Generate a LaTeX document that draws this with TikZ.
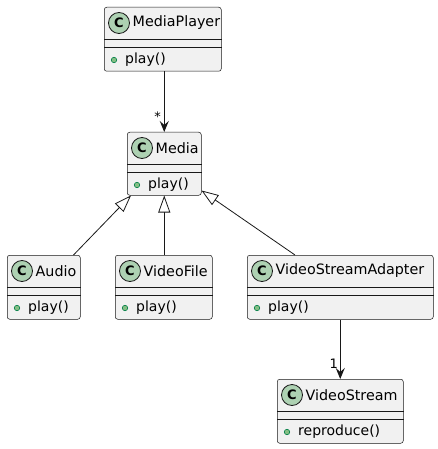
\documentclass[tikz,border=0pt]{standalone}
\usepackage{fontspec}
\setmainfont{DejaVu Sans}
\usetikzlibrary{arrows.meta}
\definecolor{clsfill}{HTML}{F1F1F1}
\definecolor{clsline}{HTML}{181818}
\definecolor{cfill}{HTML}{ADD1B2}
\definecolor{dotfill}{HTML}{84BE84}
\definecolor{dotline}{HTML}{038048}
\tikzset{
  clsbox/.style={draw=clsline, fill=clsfill, line width=0.5pt, rounded corners=2.5pt, inner sep=0pt},
  sepline/.style={draw=clsline, line width=0.5pt},
  cball/.style={circle, draw=clsline, fill=cfill, line width=0.8pt, minimum size=21pt, inner sep=0pt, font=\fontsize{13}{13}\selectfont\bfseries},
  clstitle/.style={inner sep=0pt, anchor=west, font=\fontsize{14.3}{14.3}\selectfont},
  clsmethod/.style={inner sep=0pt, anchor=west, font=\fontsize{14}{14}\selectfont},
  pubdot/.style={circle, draw=dotline, fill=dotfill, line width=0.6pt, minimum size=5.5pt, inner sep=0pt},
  assoc/.style={draw=clsline, line width=0.9pt, -{Stealth[length=11pt, width=9pt, inset=4pt]}},
  inh/.style={draw=clsline, line width=0.8pt, -{Triangle[open, length=17pt, width=12pt, fill=white]}},
  multlabel/.style={inner sep=0pt, font=\fontsize{13}{13}\selectfont},
}
\newcommand\umlcls[7]{%
  \pgfmathsetmacro\clsw{#4-#2}\pgfmathsetmacro\clsh{#5-#3}%
  \node[clsbox, minimum width=\clsw pt, minimum height=\clsh pt, anchor=north west] (#1) at (#2,#3) {};
  \draw[sepline] ([yshift=-32pt]#1.north west) -- ([yshift=-32pt]#1.north east);
  \draw[sepline] ([yshift=-40pt]#1.north west) -- ([yshift=-40pt]#1.north east);
  \node[cball] (#1c) at ([xshift=15pt,yshift=-16pt]#1.north west) {C};
  \node[clstitle] (#1t) at ([xshift=28.5pt,yshift=-16pt]#1.north west) {#6};
  \node[pubdot] (#1d) at ([xshift=10pt,yshift=-53pt]#1.north west) {};
  \node[clsmethod] (#1m) at ([xshift=21pt,yshift=-53pt]#1.north west) {#7};
}
\begin{document}
\begin{tikzpicture}[x=1pt, y=-1pt]
\useasboundingbox (0,0) rectangle (438,449);
\umlcls{mp}{104}{7}{221}{71}{MediaPlayer}{play()}
\umlcls{media}{127}{132}{201}{195}{Media}{play()}
\umlcls{audio}{7}{255}{80}{319}{Audio}{play()}
\umlcls{vf}{115}{255}{212}{319}{VideoFile}{play()}
\umlcls{vsa}{247}{255}{433}{319}{VideoStreamAdapter}{play()}
\umlcls{vs}{277}{379}{403}{443}{VideoStream}{reproduce()}
\draw[assoc] (mp.south -| media.north) -- (media.north) node[multlabel, pos=0.75, left=3pt] (star) {*};
\draw[inh] ([xshift=-7pt]audio.north east) -- ([xshift=4pt]media.south west);
\draw[inh] (vf.north -| media.south) -- (media.south);
\draw[inh] ([xshift=48pt]vsa.north west) -- ([yshift=5pt]media.south east);
\draw[assoc] (vsa.south) -- (vs.north) node[multlabel, pos=0.75, left=2pt] (one) {1};
\end{tikzpicture}
\end{document}
